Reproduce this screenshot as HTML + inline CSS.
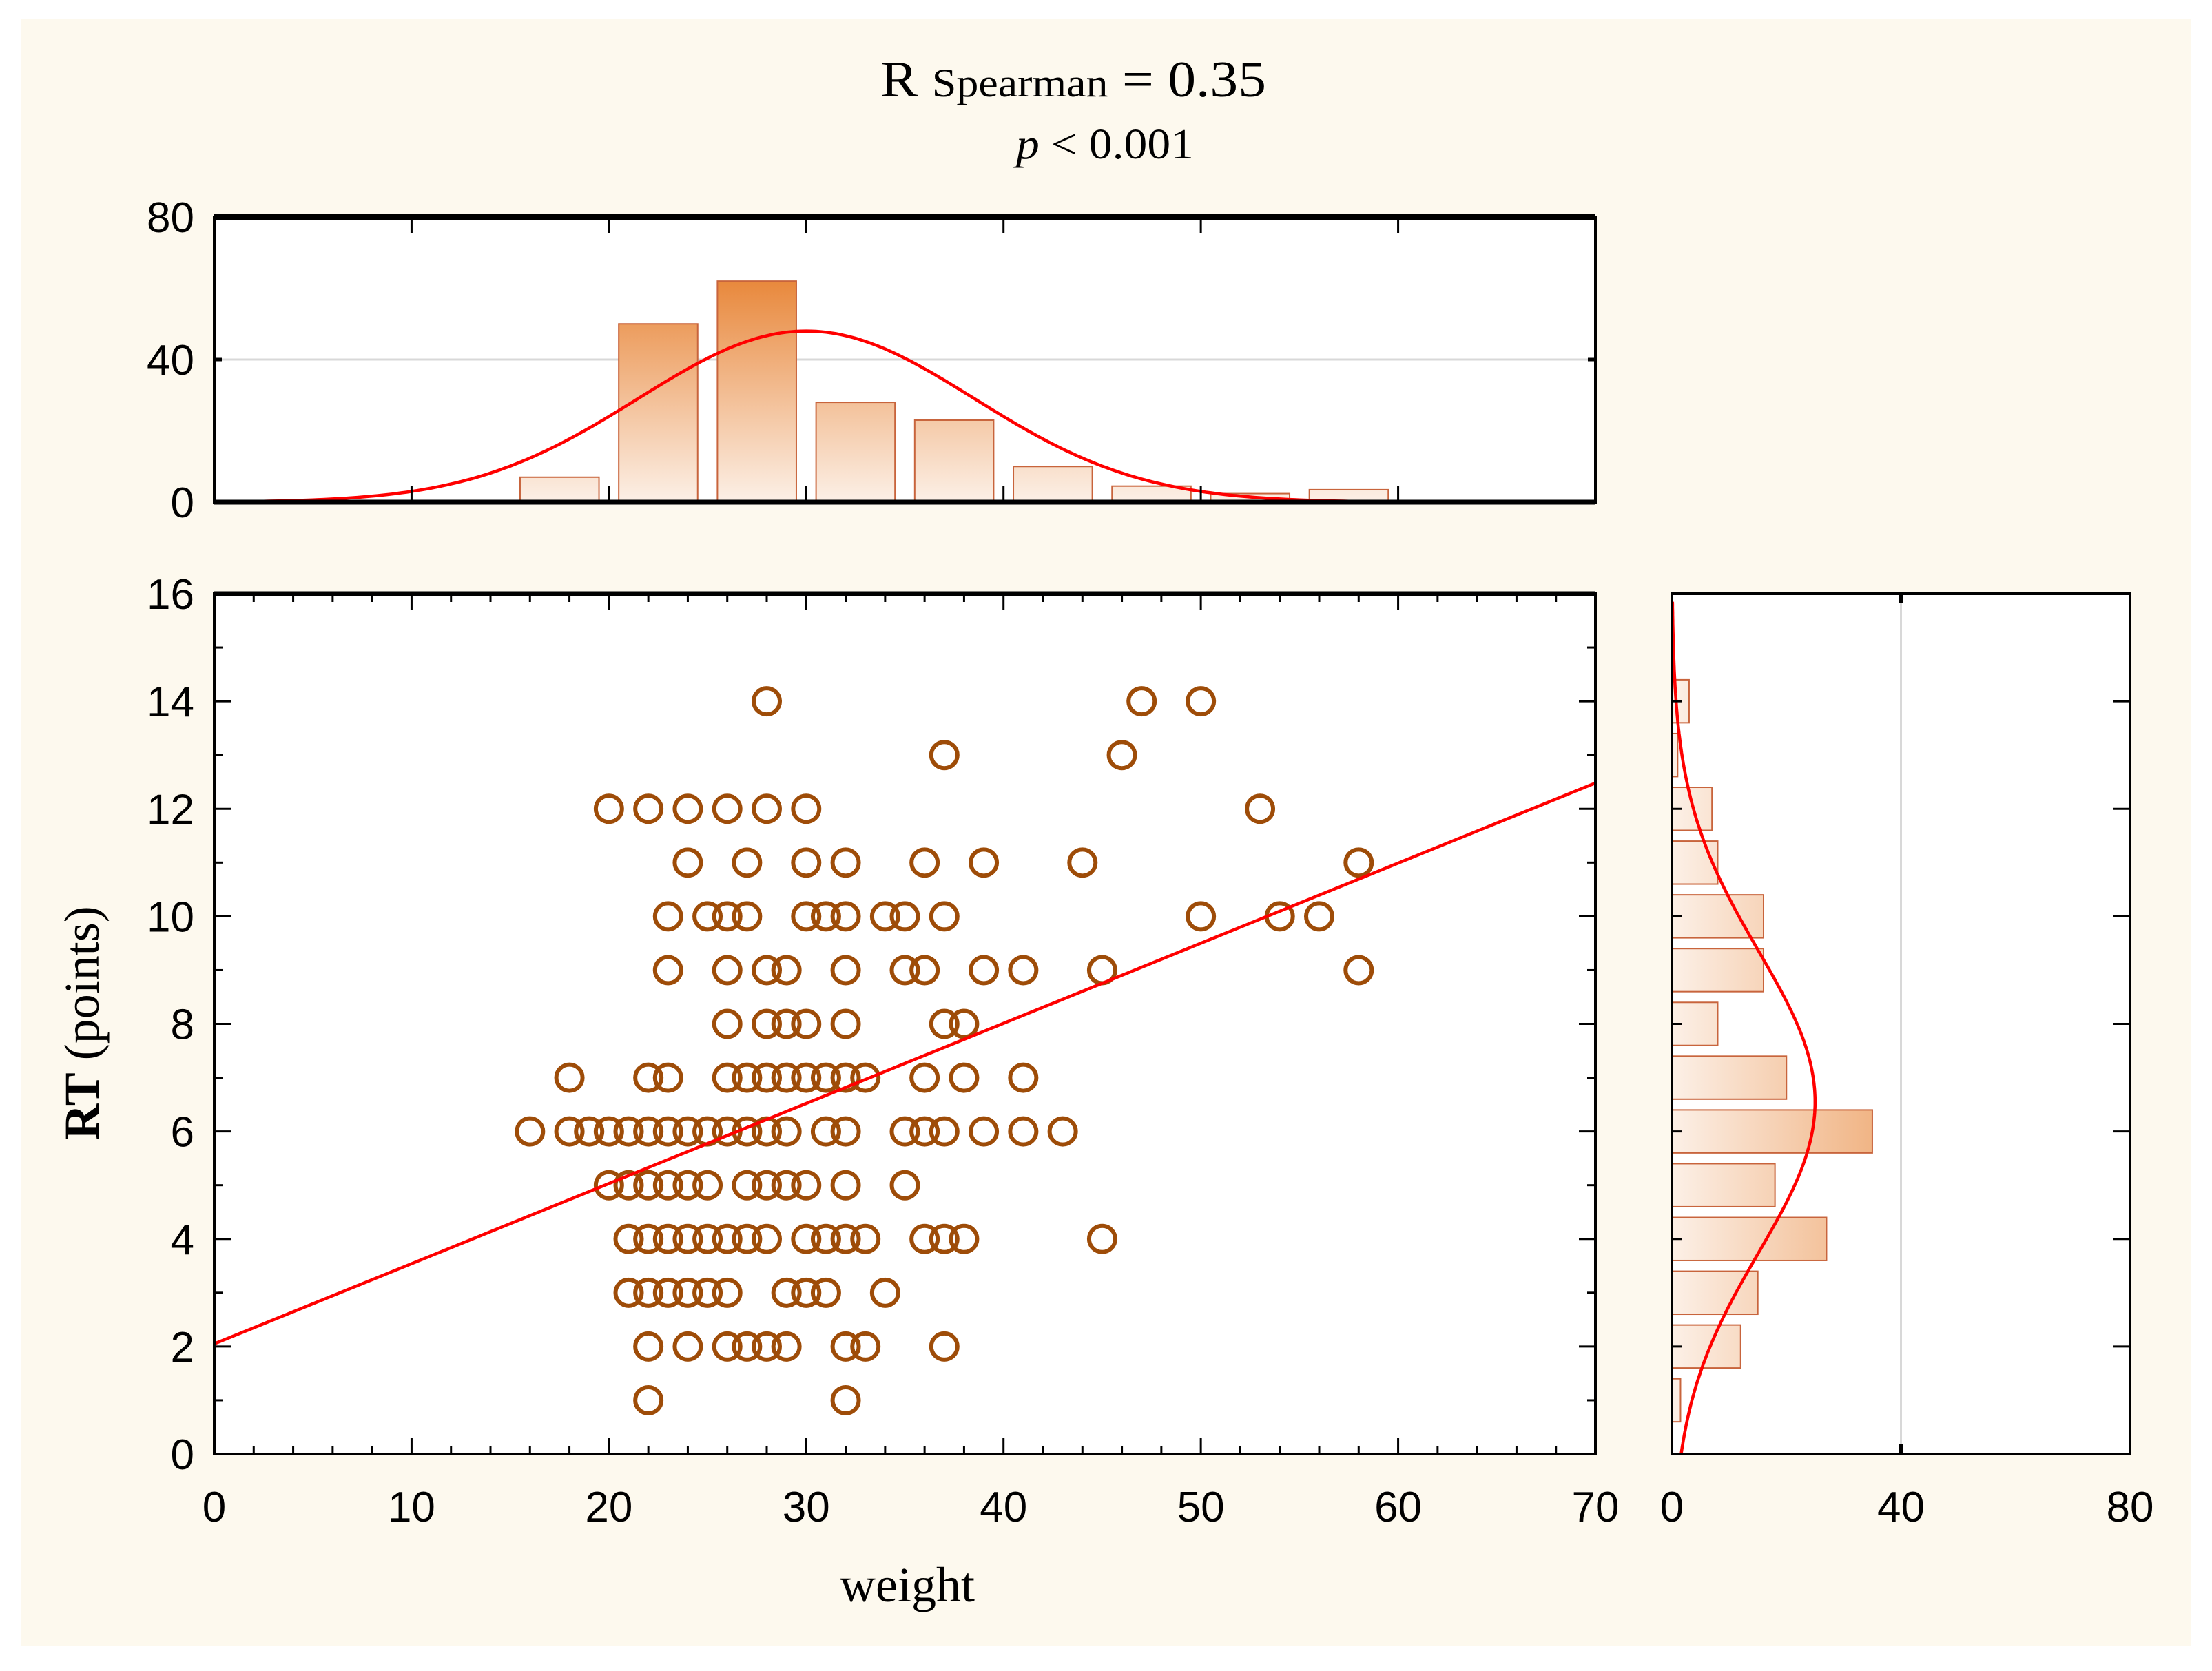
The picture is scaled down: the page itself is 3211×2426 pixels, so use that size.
<!DOCTYPE html>
<html><head><meta charset="utf-8"><style>
html,body{margin:0;padding:0;background:#fff;}
svg{display:block;}
text{font-family:"Liberation Sans",sans-serif;}
.serif,.serif tspan{font-family:"Liberation Serif",serif;}
</style></head><body>
<svg id="chart" width="3211" height="2426" viewBox="0 0 3211 2426" xmlns="http://www.w3.org/2000/svg">
<defs>
<linearGradient id="gradV" gradientUnits="userSpaceOnUse" x1="0" y1="729" x2="0" y2="404">
<stop offset="0" stop-color="#fcf0e7"/><stop offset="1" stop-color="#e8873a"/></linearGradient>
<linearGradient id="gradH" gradientUnits="userSpaceOnUse" x1="2427" y1="0" x2="2942" y2="0">
<stop offset="0" stop-color="#fcf0e7"/><stop offset="1" stop-color="#e8873a"/></linearGradient>
</defs>
<rect x="30" y="27" width="3150" height="2363" fill="#fdf9ee"/>
<g>
<text class="serif" x="1278" y="140" font-size="74" textLength="560" lengthAdjust="spacingAndGlyphs">R <tspan font-size="58">Spearman</tspan> = 0.35</text>
<text class="serif" x="1475" y="230" font-size="62" textLength="258" lengthAdjust="spacingAndGlyphs"><tspan font-style="italic">p</tspan> &lt; 0.001</text>
</g>
<rect x="311" y="315" width="2005" height="414" fill="#fff"/>
<rect x="311" y="862" width="2005" height="1249" fill="#fff"/>
<rect x="2427" y="862" width="665" height="1249" fill="#fff"/>
<g id="layer"></g>
<text class="serif" x="1317" y="2325" font-size="72" text-anchor="middle">weight</text>
<text class="serif" transform="translate(143,1485) rotate(-90)" font-size="72" text-anchor="middle"><tspan font-weight="bold">RT</tspan> (points)</text>
</svg>
<script>
const rtLevels = [14,13,12,11,10,9,8,7,6,5,4,3,2,1];
const weightsAtLevel = [
 [28,47,50],
 [37,46],
 [20,22,24,26,28,30,53],
 [24,27,30,32,36,39,44,58],
 [23,25,26,27,30,31,32,34,35,37,50,54,56],
 [23,26,28,29,32,35,36,39,41,45,58],
 [26,28,29,30,32,37,38],
 [18,22,23,26,27,28,29,30,31,32,33,36,38,41],
 [16,18,19,20,21,22,23,24,25,26,27,28,29,31,32,35,36,37,39,41,43],
 [20,21,22,23,24,25,27,28,29,30,32,35],
 [21,22,23,24,25,26,27,28,30,31,32,33,36,37,38,45],
 [21,22,23,24,25,26,29,30,31,34],
 [22,24,26,27,28,29,32,33,37],
 [22,32]
];
const weightBinCenters = [17.5,22.5,27.5,32.5,37.5,42.5,47.5,52.5,57.5];
const weightBinCounts = [7,50,62,28,23,10,4.5,2.4,3.5];
const rtBinCenters = [14,13,12,11,10,9,8,7,6,5,4,3,2,1];
const rtBinCounts = [3,1,7,8,16,16,8,20,35,18,27,15,12,1.5];
const regIntercept = 2.05, regSlope = 0.149;
const weightFit = {mean:30, sd:8.5, peak:48};
const rtFit = {mean:6.55, sd:2.8, peak:25};
const xTicks = [0,10,20,30,40,50,60,70];
const yTicks = [0,2,4,6,8,10,12,14,16];
const histCountTicks = [0,40,80];

const NS='http://www.w3.org/2000/svg';
const layer=document.getElementById('layer');
const sx=w=>311+w*(2316-311)/70;
const sy=v=>2111-v*(2111-862)/16;
const hy=c=>729-c*(729-315)/80;
const rx=c=>2427+c*(3092-2427)/80;
function mk(tag,attrs,parent){const e=document.createElementNS(NS,tag);for(const k in attrs)e.setAttribute(k,attrs[k]);(parent||layer).appendChild(e);return e;}
function ln(x1,y1,x2,y2,w,c,p){return mk('line',{x1,y1,x2,y2,'stroke-width':w,stroke:c},p);}

let g=ln(311,hy(40),2316,hy(40),3,'#d8d8d8');


g=ln(rx(40),862,rx(40),2111,3,'#d8d8d8');



weightBinCenters.forEach((c,i)=>{
 const x0=sx(c-2), x1=sx(c+2), y=hy(weightBinCounts[i]);
 const r=mk('rect',{x:x0,y:y,width:x1-x0,height:729-y,fill:'url(#gradV)',stroke:'#c8643c','stroke-width':2});
 
 
});
let d='';
for(let w=1;w<=59;w+=0.25){const c=weightFit.peak*Math.exp(-Math.pow(w-weightFit.mean,2)/(2*weightFit.sd*weightFit.sd));d+=(d?'L':'M')+sx(w).toFixed(1)+','+hy(c).toFixed(1);}
let p=mk('path',{d,fill:'none',stroke:'#ff0000','stroke-width':4.5});



rtBinCenters.forEach((c,i)=>{
 const y0=sy(c+0.4), y1=sy(c-0.4), x=rx(rtBinCounts[i]);
 const r=mk('rect',{x:2427,y:y0,width:x-2427,height:y1-y0,fill:'url(#gradH)',stroke:'#c8643c','stroke-width':2});
 
 
});
d='';
for(let v=0;v<=15.9;v+=0.05){const c=rtFit.peak*Math.exp(-Math.pow(v-rtFit.mean,2)/(2*rtFit.sd*rtFit.sd));d+=(d?'L':'M')+rx(c).toFixed(1)+','+sy(v).toFixed(1);}
p=mk('path',{d,fill:'none',stroke:'#ff0000','stroke-width':4.5});



rtLevels.forEach((rt,i)=>{
 weightsAtLevel[i].forEach(w=>{
  const c=mk('circle',{cx:sx(w),cy:sy(rt),r:19,fill:'none',stroke:'#9e4c08','stroke-width':6});
  
  
 });
});
p=ln(sx(0),sy(regIntercept),sx(70),sy(regIntercept+regSlope*70),4.5,'#ff0000');



const frames=[[311,315,2316,729,'top-histogram-frame'],[311,862,2316,2111,'scatter-frame'],[2427,862,3092,2111,'right-histogram-frame']];
frames.forEach(f=>{
 const r=mk('rect',{x:f[0],y:f[1],width:f[2]-f[0],height:f[3]-f[1],fill:'none',stroke:'#000','stroke-width':4});
 
 
});
ln(311,315,2316,315,8,'#000');ln(311,729,2316,729,7,'#000');ln(311,862,2316,862,7,'#000');

for(let w=0;w<=70;w+=2){const big=w%10===0;const L=big?24:12;
 ln(sx(w),2111,sx(w),2111-L,3,'#000');ln(sx(w),862,sx(w),862+L,3,'#000');
 if(big){ln(sx(w),315,sx(w),315+24,3,'#000');ln(sx(w),729,sx(w),729-24,3,'#000');}}
for(let v=0;v<=16;v++){const big=v%2===0;const L=big?24:12;
 ln(311,sy(v),311+L,sy(v),3,'#000');ln(2316,sy(v),2316-L,sy(v),3,'#000');
 if(big){ln(2427,sy(v),2427+14,sy(v),3,'#000');ln(3092,sy(v),3092-24,sy(v),3,'#000');}}
ln(311,hy(40),322,hy(40),5,'#000');ln(2316,hy(40),2305,hy(40),5,'#000');
ln(rx(40),862,rx(40),876,5,'#000');ln(rx(40),2111,rx(40),2097,5,'#000');

xTicks.forEach(t=>{const e=mk('text',{x:sx(t),y:2209,'font-size':62,'text-anchor':'middle'});e.textContent=t;
 
 });
yTicks.forEach(t=>{const e=mk('text',{x:282,y:sy(t)+22,'font-size':62,'text-anchor':'end'});e.textContent=t;
 
 });
histCountTicks.forEach(t=>{const e=mk('text',{x:282,y:hy(t)+22,'font-size':62,'text-anchor':'end'});e.textContent=t;
 
 });
histCountTicks.forEach(t=>{const e=mk('text',{x:rx(t),y:2209,'font-size':62,'text-anchor':'middle'});e.textContent=t;
 
 });
</script>
</body></html>
